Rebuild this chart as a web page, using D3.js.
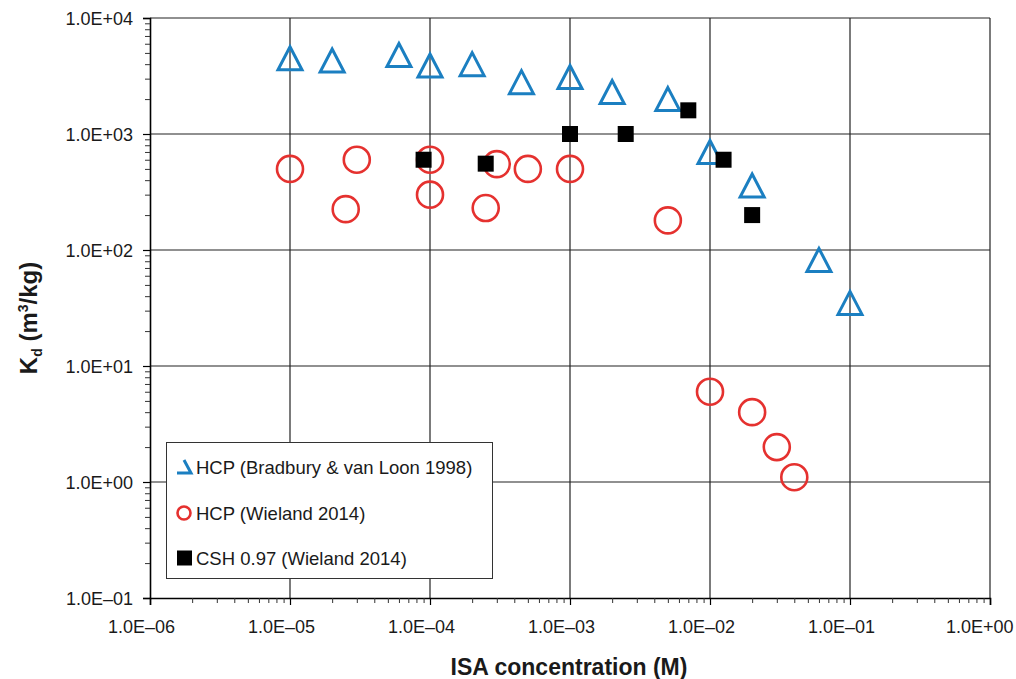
<!DOCTYPE html>
<html><head><meta charset="utf-8">
<script src="https://cdn.jsdelivr.net/npm/d3@7"></script>
<style>body{margin:0;background:#fff}svg{display:block}text{font-family:Arial,"Liberation Sans",sans-serif;fill:#1a1a1a}</style>
</head><body><svg id="c" width="1016" height="679"></svg>
<script>
// Data
const hcpBradburyX = [1e-5, 2e-5, 6e-5, 1e-4, 2e-4, 4.5e-4, 1e-3, 2e-3, 5e-3, 1e-2, 2e-2, 6e-2, 1e-1];
const hcpBradburyY = [4500, 4300, 4800, 3900, 4000, 2800, 3100, 2300, 2000, 700, 360, 82, 35];
const hcpWielandX = [1e-5, 2.5e-5, 3e-5, 1e-4, 1e-4, 2.5e-4, 3e-4, 5e-4, 1e-3, 5e-3, 1e-2, 2e-2, 3e-2, 4e-2];
const hcpWielandY = [500, 225, 600, 600, 300, 230, 550, 500, 500, 180, 6.0, 4.0, 2.0, 1.1];
const cshX = [9e-5, 2.5e-4, 1e-3, 2.5e-3, 7e-3, 1.25e-2, 2e-2];
const cshY = [600, 555, 1000, 1000, 1600, 600, 200];
const xTicks = [1e-6, 1e-5, 1e-4, 1e-3, 1e-2, 1e-1, 1];
const xTickLabels = ["1.0E\u201306","1.0E\u201305","1.0E\u201304","1.0E\u201303","1.0E\u201302","1.0E\u201301","1.0E+00"];
const yTicks = [1e-1, 1, 10, 100, 1000, 10000];
const yTickLabels = ["1.0E\u201301","1.0E+00","1.0E+01","1.0E+02","1.0E+03","1.0E+04"];
const legendLabels = ["HCP (Bradbury & van Loon 1998)", "HCP (Wieland 2014)", "CSH 0.97 (Wieland 2014)"];

const svg = d3.select("#c");
const L = 150, R = 990, T = 18, B = 598;
const x = d3.scaleLog().domain([1e-6, 1]).range([L, R]);
const y = d3.scaleLog().domain([1e-1, 1e4]).range([B, T]);
const blue = "#1b7fc1", red = "#e5312f";

// minor tick values
const minorX = [], minorY = [];
for (let e = -6; e < 0; e++) for (let k = 2; k <= 9; k++) minorX.push(k * Math.pow(10, e));
for (let e = -1; e < 4; e++) for (let k = 2; k <= 9; k++) minorY.push(k * Math.pow(10, e));

// gridlines
const g = svg.append("g");
g.selectAll(".vg").data(xTicks.slice(1)).join("line")
  .attr("x1", d => x(d)).attr("x2", d => x(d)).attr("y1", T).attr("y2", B)
  .attr("stroke", "#222").attr("stroke-width", 1.2);
g.selectAll(".hg").data(yTicks.slice(1)).join("line")
  .attr("x1", L).attr("x2", R).attr("y1", d => y(d)).attr("y2", d => y(d))
  .attr("stroke", "#222").attr("stroke-width", 1.2);

// axes
const xAxis = d3.axisBottom(x).tickValues(xTicks).tickSize(7).tickFormat((d, i) => xTickLabels[i]);
const xg = svg.append("g").attr("transform", `translate(0,${B})`).call(xAxis);
xg.select(".domain").attr("stroke", "#000").attr("stroke-width", 1.6);
xg.selectAll(".tick line").attr("stroke", "#000").attr("stroke-width", 1.2);
xg.selectAll(".tick text").attr("font-size", 18).attr("dy", "0").attr("y", 35).attr("fill", "#1a1a1a")
  .attr("x", (d, i) => i === xTicks.length - 1 ? 23 : -9)
  .attr("text-anchor", (d, i) => i === xTicks.length - 1 ? "end" : "middle");
const xm = d3.axisBottom(x).tickValues(minorX).tickSize(5).tickFormat("");
const xmg = svg.append("g").attr("transform", `translate(0,${B})`).call(xm);
xmg.select(".domain").remove();
xmg.selectAll(".tick line").attr("stroke", "#333").attr("stroke-width", 1);

const yAxis = d3.axisLeft(y).tickValues(yTicks).tickSize(7).tickFormat((d, i) => yTickLabels[i]);
const yg = svg.append("g").attr("transform", `translate(${L},0)`).call(yAxis);
yg.select(".domain").attr("stroke", "#000").attr("stroke-width", 1.6);
yg.selectAll(".tick line").attr("stroke", "#000").attr("stroke-width", 1.2);
yg.selectAll(".tick text").attr("font-size", 18).attr("x", -17).attr("dy", "0.36em").attr("fill", "#1a1a1a");
const ym = d3.axisLeft(y).tickValues(minorY).tickSize(5).tickFormat("");
const ymg = svg.append("g").attr("transform", `translate(${L},0)`).call(ym);
ymg.select(".domain").remove();
ymg.selectAll(".tick line").attr("stroke", "#333").attr("stroke-width", 1);

// axis titles
svg.append("text").attr("x", 569).attr("y", 675).attr("text-anchor", "middle")
  .attr("font-size", 23).attr("font-weight", "bold").text("ISA concentration (M)");
const yt = svg.append("text").attr("transform", "translate(37,318) rotate(-90)")
  .attr("text-anchor", "middle").attr("font-size", 24).attr("font-weight", "bold");
yt.append("tspan").text("K");
yt.append("tspan").attr("font-size", 14).attr("dy", 5).text("d");
yt.append("tspan").attr("dy", -5).text(" (m");
yt.append("tspan").attr("font-size", 14).attr("dy", -9).text("3");
yt.append("tspan").attr("dy", 9).text("/kg)");

// markers
const triPath = "M0,-11.5 L12,11.5 L-12,11.5 Z";
svg.append("g").selectAll("path").data(hcpBradburyX.map((d, i) => [d, hcpBradburyY[i]])).join("path")
  .attr("d", triPath).attr("transform", d => `translate(${x(d[0])},${y(d[1])})`)
  .attr("fill", "none").attr("stroke", blue).attr("stroke-width", 3).attr("stroke-linejoin", "miter");
svg.append("g").selectAll("circle").data(hcpWielandX.map((d, i) => [d, hcpWielandY[i]])).join("circle")
  .attr("cx", d => x(d[0])).attr("cy", d => y(d[1])).attr("r", 13)
  .attr("fill", "none").attr("stroke", red).attr("stroke-width", 2.6);
svg.append("g").selectAll("rect").data(cshX.map((d, i) => [d, cshY[i]])).join("rect")
  .attr("x", d => x(d[0]) - 8).attr("y", d => y(d[1]) - 8).attr("width", 16).attr("height", 16)
  .attr("fill", "#000");

// legend
const lg = svg.append("g");
lg.append("rect").attr("x", 166.5).attr("y", 442.5).attr("width", 326).attr("height", 136)
  .attr("fill", "#fff").attr("stroke", "#333").attr("stroke-width", 1);
const rowsY = [467, 513, 558];
lg.append("path").attr("d", `M177,${rowsY[0]+6} L191,${rowsY[0]+6} L184,${rowsY[0]-7}`)
  .attr("fill", "none").attr("stroke", blue).attr("stroke-width", 3);
lg.append("circle").attr("cx", 184).attr("cy", rowsY[1]).attr("r", 6.5)
  .attr("fill", "none").attr("stroke", red).attr("stroke-width", 2.6);
lg.append("rect").attr("x", 177).attr("y", rowsY[2] - 7.5).attr("width", 15).attr("height", 15).attr("fill", "#000");
lg.selectAll("text.l").data(legendLabels).join("text")
  .attr("x", 196).attr("y", (d, i) => rowsY[i]).attr("dy", "0.36em")
  .attr("font-size", 18.5).text(d => d);
</script></body></html>
